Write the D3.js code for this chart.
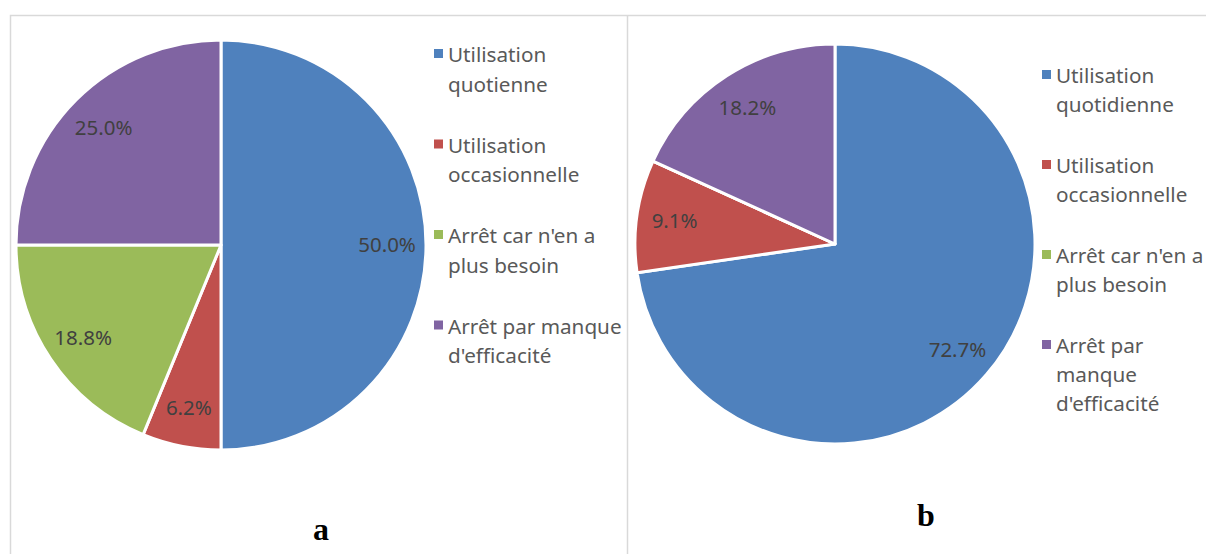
<!DOCTYPE html>
<html>
<head>
<meta charset="utf-8">
<script src="https://cdn.jsdelivr.net/npm/d3@7/dist/d3.min.js"></script>
<style>
  body { margin: 0; background: #fff; }
  svg { display: block; }
  .slice-label { font-family: "Noto Sans", sans-serif; font-size: 20.5px; fill: #404040; }
  .legend-text { font-family: "Noto Sans", sans-serif; font-size: 20.7px; fill: #595959; }
  .panel-letter { font-family: "Liberation Serif", "Times New Roman", serif; font-weight: bold; font-size: 32px; fill: #000; }
</style>
</head>
<body>
<svg id="chart"></svg>
<script>
const svgWidth = 1206,
    svgHeight = 554;

// categories (legend lines, one array per chart since wording/wrapping differs)
const legendA = [
    ["Utilisation", "quotienne"],
    ["Utilisation", "occasionnelle"],
    ["Arrêt car n'en a", "plus besoin"],
    ["Arrêt par manque", "d'efficacité"]
];
const legendB = [
    ["Utilisation", "quotidienne"],
    ["Utilisation", "occasionnelle"],
    ["Arrêt car n'en a", "plus besoin"],
    ["Arrêt par", "manque", "d'efficacité"]
];

// series values (percent, as printed on the slices)
const valuesA = [50.0, 6.2, 18.8, 25.0];
const valuesB = [72.7, 9.1, 0, 18.2];

const panelLetters = ["a", "b"];

const colors = ["#4F81BD", "#C0504D", "#9BBB59", "#8064A2"];

const chart = d3.select("#chart")
    .attr("width", svgWidth)
    .attr("height", svgHeight);

// panel frames
chart.append("path")
    .attr("d", "M10.5,554 V15.5 H1206 M627.5,15.5 V554")
    .attr("fill", "none")
    .attr("stroke", "#D9D9D9")
    .attr("stroke-width", 1.5);

var pie = d3.pie().sort(null).value(function(d) { return d; });
var format = d3.format(".1f");

function drawPie(values, cfg) {
    var arc = d3.arc().innerRadius(0).outerRadius(cfg.r);
    var labelArc = d3.arc().innerRadius(cfg.r * 0.81).outerRadius(cfg.r * 0.81);

    var g = chart.append("g")
        .attr("transform", "translate(" + cfg.cx + "," + cfg.cy + ")");

    var arcs = pie(values);

    g.selectAll("path.slice")
        .data(arcs)
        .enter()
        .append("path")
        .attr("class", "slice")
        .attr("d", arc)
        .attr("fill", function(d, i) { return colors[i]; })
        .attr("stroke", "#fff")
        .attr("stroke-width", 3)
        .attr("stroke-linejoin", "round");

    // labels: inside, near the rim (no label on empty slices)
    g.selectAll("text.slice-label")
        .data(arcs.filter(function(d) { return d.data > 0; }))
        .enter()
        .append("text")
        .attr("class", "slice-label")
        .attr("text-anchor", "middle")
        .attr("dy", "0.35em")
        .attr("transform", function(d) { return "translate(" + labelArc.centroid(d) + ")"; })
        .text(function(d) { return format(d.data) + "%"; });
}

function drawLegend(items, cfg) {
    var lg = chart.append("g")
        .attr("transform", "translate(" + cfg.x + "," + cfg.y + ")");

    var item = lg.selectAll("g.item")
        .data(items)
        .enter()
        .append("g")
        .attr("class", "item")
        .attr("transform", function(d, i) { return "translate(0," + (i * cfg.step) + ")"; });

    item.append("rect")
        .attr("x", -1)
        .attr("y", -13)
        .attr("width", 9)
        .attr("height", 9)
        .attr("fill", function(d, i) { return colors[i]; });

    item.append("text")
        .attr("class", "legend-text")
        .selectAll("tspan")
        .data(function(d) { return d; })
        .enter()
        .append("tspan")
        .attr("x", 13)
        .attr("y", function(d, j) { return j * cfg.line; })
        .text(function(d) { return d; });
}

drawPie(valuesA, {cx: 221, cy: 245, r: 205});
drawPie(valuesB, {cx: 835, cy: 244, r: 200});

drawLegend(legendA, {x: 435, y: 62, step: 90.5, line: 29.5});
drawLegend(legendB, {x: 1043, y: 83, step: 90, line: 29});

chart.selectAll("text.panel-letter")
    .data(panelLetters)
    .enter()
    .append("text")
    .attr("class", "panel-letter")
    .attr("text-anchor", "middle")
    .attr("x", function(d, i) { return i === 0 ? 321 : 926; })
    .attr("y", function(d, i) { return i === 0 ? 540 : 526; })
    .text(function(d) { return d; });
</script>
</body>
</html>
